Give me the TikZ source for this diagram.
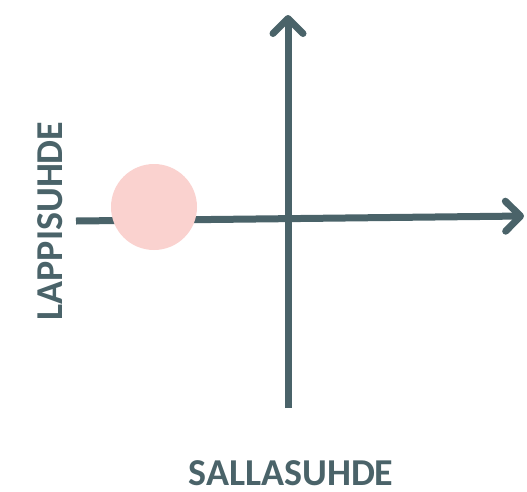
\documentclass[tikz,border=0pt]{standalone}
\usepackage{fontspec}
\setmainfont{Carlito}
\usepackage{tikz}
\usetikzlibrary{positioning,arrows.meta}
\definecolor{axisc}{HTML}{4A6369}
\definecolor{blob}{HTML}{FAD2CF}

\begin{document}
\begin{tikzpicture}[
    x=1pt,y=-1pt,
    axis/.style={draw=axisc,line width=7pt,
                 -{Straight Barb[length=15pt,width=30pt,round]}},
    lbl/.style={text=axisc,font=\fontsize{38}{42}\selectfont\bfseries,
                inner sep=0pt,text depth=0pt}
  ]
  \useasboundingbox (0,0) rectangle (527,491);

  % axes
  \coordinate (hL) at (76,221);
  \coordinate (hR) at (524,216);
  \coordinate (vB) at (288,408);
  \coordinate (vT) at (288,15);
  \draw[axis] (hL) -- (hR);
  \draw[axis] (vB) -- (vT);

  % marker
  \node[circle,fill=blob,minimum size=86pt,inner sep=0pt] (spot) at (154,207) {};

  % labels
  \node[lbl,rotate=90,anchor=base] (yLab) at (62,221) {LAPPISUHDE};
  \node[lbl,anchor=base] (xLab) at (291,485) {SALLASUHDE};

\end{tikzpicture}
\end{document}
